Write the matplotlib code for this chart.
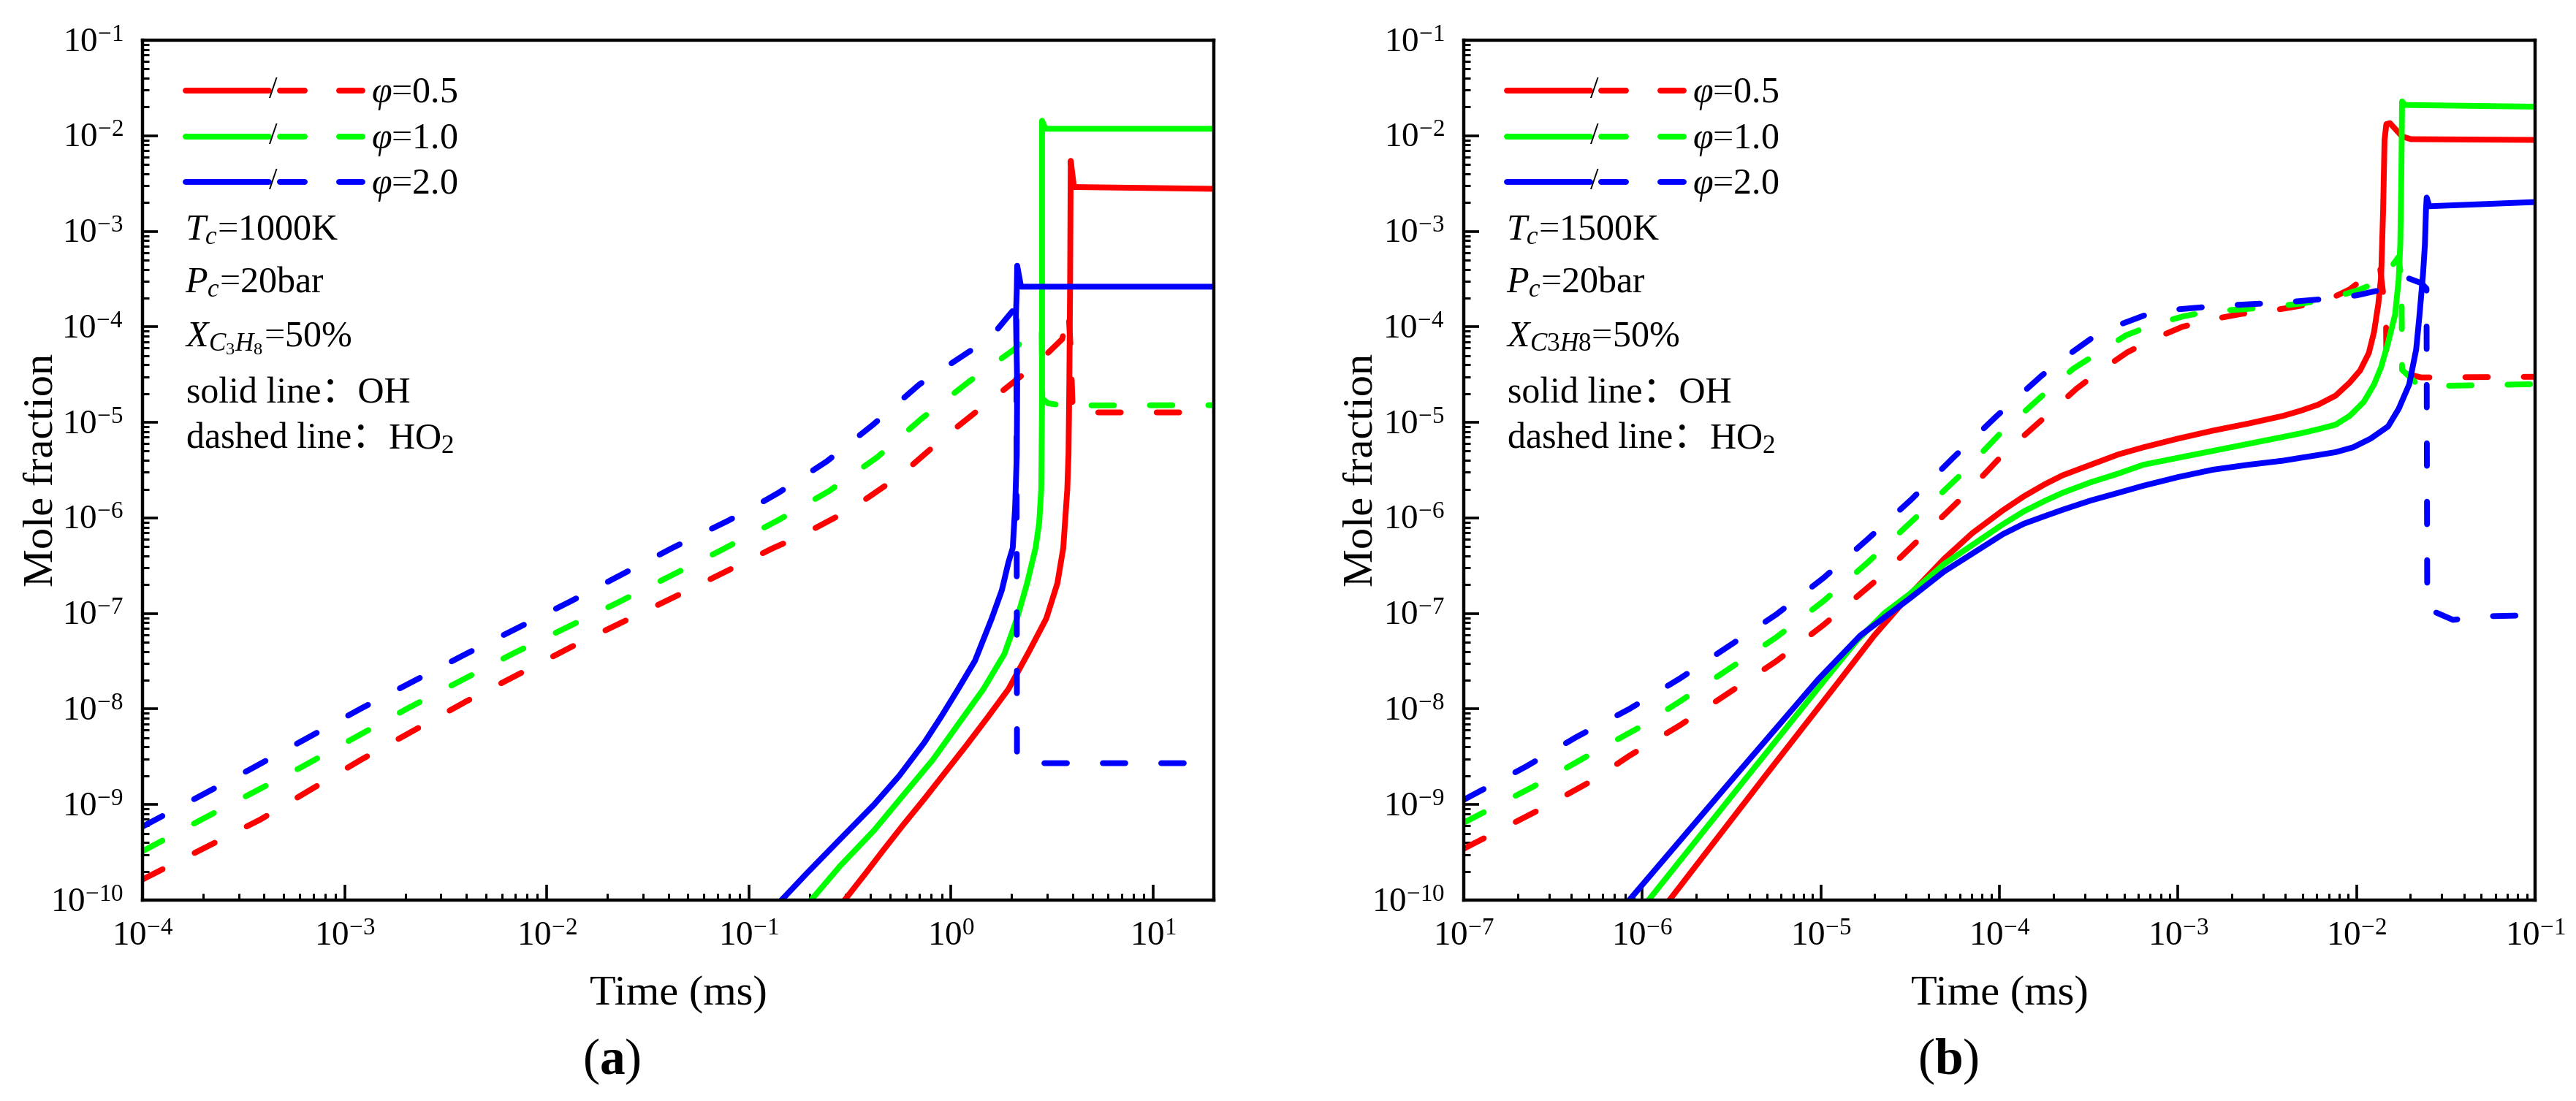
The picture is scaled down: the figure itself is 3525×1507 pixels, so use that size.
import numpy as np
import matplotlib
matplotlib.use("Agg")
import matplotlib.pyplot as plt
from matplotlib.ticker import LogLocator, NullFormatter

plt.rcParams['font.family'] = ['Liberation Serif', 'Noto Sans CJK SC', 'DejaVu Sans']
plt.rcParams['mathtext.fontset'] = 'custom'
plt.rcParams['mathtext.rm'] = 'Liberation Serif'
plt.rcParams['mathtext.it'] = 'Liberation Serif:italic'
plt.rcParams['mathtext.bf'] = 'Liberation Serif:bold'
plt.rcParams['axes.unicode_minus'] = False

# ---- data, stored as decades:
#      lt = log10(time / ms), ly = log10(mole fraction) ----
phis = ['0.5', '1.0', '2.0']
colors = ['#ff0000', '#00ff00', '#0000ff']

# (a) Tc = 1000 K, OH
a_oh_red_lt = [-0.526, -0.422, -0.339, -0.235, -0.131, -0.027, 0.077, 0.181, 0.285, 0.39, 0.472, 0.527,
               0.556, 0.576, 0.582, 0.586, 0.59, 0.593, 0.609, 1.31]
a_oh_red_ly = [-10.0, -9.72, -9.49, -9.21, -8.94, -8.66, -8.38, -8.09, -7.791, -7.385, -7.053, -6.684,
               -6.315, -5.7, -5.335, -4.603, -3.506, -2.263, -2.537, -2.556]
a_oh_green_lt = [-0.692, -0.547, -0.38, -0.235, -0.089, 0.036, 0.161, 0.265, 0.327, 0.377, 0.419, 0.437,
                 0.447, 0.451, 0.451, 0.451, 0.468, 1.31]
a_oh_green_ly = [-10.0, -9.64, -9.27, -8.9, -8.53, -8.16, -7.791, -7.422, -7.053, -6.684, -6.315, -6.05,
                 -5.7, -4.786, -3.141, -1.843, -1.927, -1.927]
a_oh_blue_lt = [-0.838, -0.713, -0.547, -0.38, -0.256, -0.131, -0.048, 0.036, 0.119, 0.202, 0.252, 0.285,
                0.306, 0.318, 0.326, 0.328, 0.322, 0.326, 0.328, 0.347, 1.31]
a_oh_blue_ly = [-10.0, -9.72, -9.36, -9.0, -8.7, -8.35, -8.08, -7.791, -7.496, -7.053, -6.758, -6.463,
                -6.315, -5.883, -5.335, -4.603, -3.872, -3.616, -3.36, -3.58, -3.58]

# (a) HO2
a_ho2_red_lt = [-4.0, -3.417, -2.918, -2.398, -1.878, -1.337, -0.879, -0.749, -0.489, -0.25, -0.031, 0.197,
                0.426, 0.551, 0.582, 0.593, 0.603, 1.31]
a_ho2_red_ly = [-9.784, -9.157, -8.53, -7.92, -7.35, -6.795, -6.315, -6.194, -5.902, -5.554, -5.152, -4.768,
                -4.384, -4.128, -3.835, -4.24, -4.896, -4.896]
a_ho2_green_lt = [-4.0, -3.708, -3.209, -2.689, -2.169, -1.649, -1.15, -0.853, -0.603, -0.364, -0.146, 0.089,
                  0.312, 0.364, 0.437, 0.449, 0.452, 0.48, 0.551, 1.31]
a_ho2_green_ly = [-9.489, -9.157, -8.603, -7.994, -7.422, -6.887, -6.352, -6.022, -5.719, -5.364, -4.962,
                  -4.574, -4.238, -4.128, -3.982, -4.05, -4.75, -4.8, -4.823, -4.82]
a_ho2_blue_lt = [-4.0, -3.459, -2.918, -2.398, -1.878, -1.379, -1.103, -0.988, -0.853, -0.614, -0.385,
                 -0.156, 0.093, 0.197, 0.312, 0.324, 0.327, 0.345, 1.31]
a_ho2_blue_ly = [-9.231, -8.622, -7.994, -7.422, -6.869, -6.315, -6.03, -5.9, -5.737, -5.408, -5.024,
                 -4.603, -4.256, -4.11, -3.817, -3.7, -8.45, -8.567, -8.567]

# (b) Tc = 1500 K, OH
b_oh_red_lt = [-5.848, -5.289, -4.897, -4.701, -4.505, -4.309, -4.152, -3.98, -3.862, -3.744, -3.646, -3.489,
               -3.333, -3.195, -3.0, -2.803, -2.607, -2.411, -2.313, -2.215, -2.117, -2.039, -1.98, -1.931,
               -1.902, -1.878, -1.862, -1.851, -1.843, -1.833, -1.813, -1.745, -1.696, -0.996]
b_oh_red_ly = [-10.0, -8.646, -7.706, -7.231, -6.81, -6.427, -6.16, -5.92, -5.773, -5.646, -5.554, -5.444,
               -5.335, -5.262, -5.17, -5.086, -5.013, -4.932, -4.878, -4.815, -4.72, -4.585, -4.457, -4.274,
               -4.055, -3.762, -3.47, -2.775, -2.044, -1.879, -1.868, -2.007, -2.036, -2.044]
b_oh_green_lt = [-5.965, -5.485, -4.975, -4.799, -4.642, -4.505, -4.309, -3.98, -3.862, -3.744, -3.646,
                 -3.489, -3.333, -3.195, -3.0, -2.803, -2.607, -2.411, -2.313, -2.215, -2.117, -2.039, -1.96,
                 -1.902, -1.862, -1.823, -1.784, -1.764, -1.755, -1.749, -1.745, -1.729, -0.996]
b_oh_green_ly = [-10.0, -8.877, -7.688, -7.286, -6.993, -6.8, -6.482, -6.066, -5.93, -5.82, -5.737, -5.627,
                 -5.535, -5.444, -5.371, -5.298, -5.225, -5.152, -5.115, -5.072, -5.024, -4.933, -4.787,
                 -4.603, -4.42, -4.165, -3.872, -3.506, -3.141, -2.409, -1.641, -1.678, -1.696]
b_oh_blue_lt = [-6.073, -5.485, -5.014, -4.779, -4.505, -4.309, -3.98, -3.862, -3.744, -3.646, -3.489, -3.333,
                -3.195, -3.0, -2.803, -2.607, -2.411, -2.313, -2.215, -2.117, -2.019, -1.921, -1.823, -1.764,
                -1.705, -1.666, -1.647, -1.627, -1.617, -1.611, -1.607, -1.592, -0.996]
b_oh_blue_ly = [-10.0, -8.712, -7.688, -7.231, -6.847, -6.56, -6.17, -6.06, -5.98, -5.915, -5.818, -5.737,
                -5.664, -5.573, -5.495, -5.444, -5.401, -5.371, -5.342, -5.312, -5.261, -5.17, -5.042, -4.859,
                -4.603, -4.238, -3.872, -3.433, -3.141, -2.775, -2.647, -2.738, -2.694]

# (b) HO2
b_ho2_red_lt = [-7.0, -6.563, -6.279, -6.073, -5.789, -5.515, -5.25, -4.985, -4.662, -4.191, -3.98, -3.705,
                -3.568, -3.447, -3.284, -3.146, -2.976, -2.823, -2.646, -2.494, -2.317, -2.157, -2.039, -1.931,
                -1.87, -1.835, -1.833, -1.784, -1.637, -1.0]
b_ho2_red_ly = [-9.462, -9.041, -8.748, -8.49, -8.17, -7.83, -7.5, -7.12, -6.609, -5.755, -5.335, -4.878,
                -4.647, -4.476, -4.267, -4.135, -4.0, -3.927, -3.865, -3.836, -3.781, -3.715, -3.609, -3.452,
                -3.35, -3.9, -4.3, -4.465, -4.53, -4.523]
b_ho2_green_lt = [-7.0, -6.602, -6.308, -6.024, -5.789, -5.515, -5.25, -4.985, -4.74, -4.456, -4.22, -3.995,
                  -3.734, -3.587, -3.454, -3.293, -3.146, -2.97, -2.819, -2.637, -2.486, -2.303, -2.157, -1.99,
                  -1.862, -1.765, -1.748, -1.745, -1.647, -1.0]
b_ho2_green_ly = [-9.19, -8.804, -8.492, -8.2, -7.92, -7.58, -7.25, -6.87, -6.47, -5.975, -5.554, -5.115,
                  -4.677, -4.439, -4.281, -4.091, -3.982, -3.89, -3.836, -3.817, -3.792, -3.755, -3.708, -3.616,
                  -3.517, -3.27, -3.5, -4.45, -4.622, -4.6]
b_ho2_blue_lt = [-7.0, -6.652, -6.367, -6.073, -5.789, -5.515, -5.25, -4.985, -4.74, -4.495, -4.26, -4.015,
                 -3.764, -3.627, -3.49, -3.333, -3.176, -3.0, -2.843, -2.666, -2.51, -2.333, -2.176, -2.0,
                 -1.853, -1.715, -1.637, -1.608, -1.604, -1.46, -1.284, -1.0]
b_ho2_blue_ly = [-8.95, -8.603, -8.291, -8.0, -7.68, -7.341, -7.011, -6.628, -6.226, -5.81, -5.372, -4.933,
                 -4.512, -4.311, -4.128, -3.982, -3.872, -3.817, -3.792, -3.77, -3.755, -3.733, -3.708, -3.671,
                 -3.609, -3.488, -3.543, -3.6, -6.95, -7.067, -7.03, -7.018]

panels = [
    dict(xlim=(1e-4, 20), tc='1000K', xc=r'$X_{C_3H_8}$=50%', tag=r'($\mathbf{a}$)', tagx=0.438,
         oh=[(a_oh_red_lt, a_oh_red_ly), (a_oh_green_lt, a_oh_green_ly), (a_oh_blue_lt, a_oh_blue_ly)],
         ho2=[(a_ho2_red_lt, a_ho2_red_ly), (a_ho2_green_lt, a_ho2_green_ly),
              (a_ho2_blue_lt, a_ho2_blue_ly)]),
    dict(xlim=(1e-7, 1e-1), tc='1500K', xc=r'$X_{\mathit{C3H8}}$=50%', tag=r'($\mathbf{b}$)', tagx=0.452,
         oh=[(b_oh_red_lt, b_oh_red_ly), (b_oh_green_lt, b_oh_green_ly), (b_oh_blue_lt, b_oh_blue_ly)],
         ho2=[(b_ho2_red_lt, b_ho2_red_ly), (b_ho2_green_lt, b_ho2_green_ly),
              (b_ho2_blue_lt, b_ho2_blue_ly)]),
]

W, H = 3525, 1507
AW, AH = 1466, 1177          # axes size in pixels
LW = 5.7
DASH = (3.9, 6.2)
TXT = 36

fig = plt.figure(figsize=(W / 100, H / 100), dpi=100)
renderer = fig.canvas.get_renderer()


def fx(px):
    return px / AW


def fy(px):
    return 1 - px / AH


def dec(v):
    return 10.0 ** np.asarray(v)


for i, p in enumerate(panels):
    left = [195, 2003][i]
    ax = fig.add_axes([left / W, 1 - 1232 / H, AW / W, AH / H])
    ax.set_xscale('log')
    ax.set_yscale('log')

    for k in range(3):
        lt, ly = p['oh'][k]
        ax.plot(dec(lt), dec(ly), color=colors[k], lw=LW, solid_joinstyle='round')
        lt, ly = p['ho2'][k]
        ax.plot(dec(lt), dec(ly), color=colors[k], lw=LW, dashes=DASH,
                dash_capstyle='round', dash_joinstyle='round')

    ax.set_xlim(*p['xlim'])
    ax.set_ylim(1e-10, 1e-1)
    for axis in (ax.xaxis, ax.yaxis):
        axis.set_major_locator(LogLocator(base=10, numticks=30))
        axis.set_minor_locator(LogLocator(base=10, subs=range(2, 10), numticks=30))
        axis.set_minor_formatter(NullFormatter())
    ax.tick_params(which='both', direction='in', top=False, right=False)
    ax.tick_params(which='major', length=15, width=2.6, labelsize=34)
    ax.tick_params(which='minor', length=6.5, width=2.2)
    ax.tick_params(axis='x', which='major', pad=22)
    ax.tick_params(axis='y', which='major', pad=19)
    for s in ax.spines.values():
        s.set_linewidth(3.2)

    # legend: solid / dashed keys per equivalence ratio
    for k, ry in enumerate([69, 132, 194]):
        kw = dict(color=colors[k], lw=LW, transform=ax.transAxes, clip_on=False,
                  solid_capstyle='round')
        ax.plot([fx(58.5), fx(172.5)], [fy(ry), fy(ry)], **kw)
        ax.plot([fx(187.5), fx(221.5)], [fy(ry), fy(ry)], **kw)
        ax.plot([fx(268.5), fx(300.5)], [fy(ry), fy(ry)], **kw)
        ax.text(fx(179), fy(ry), '/', fontsize=30, ha='center', va='center', transform=ax.transAxes)
        ax.text(fx(313), fy(ry + 16), r'$\varphi$=' + phis[k], fontsize=TXT, va='baseline',
                transform=ax.transAxes)

    ax.text(fx(58), fy(273), r'$T_c$=' + p['tc'], fontsize=TXT, va='baseline', transform=ax.transAxes)
    ax.text(fx(58), fy(345), r'$P_c$=20bar', fontsize=TXT, va='baseline', transform=ax.transAxes)
    ax.text(fx(58), fy(419), p['xc'], fontsize=TXT, va='baseline', transform=ax.transAxes)
    ax.text(fx(60), fy(497), 'solid line：OH', fontsize=TXT, va='baseline', transform=ax.transAxes)
    t1 = ax.text(fx(60), fy(559), 'dashed line：', fontsize=TXT, va='baseline', transform=ax.transAxes)
    bb = t1.get_window_extent(renderer)
    x_end = ax.transAxes.inverted().transform((bb.x1, bb.y0))[0]
    ax.text(x_end, fy(559), r'HO$_2$', fontsize=TXT, va='baseline', transform=ax.transAxes)

    ax.text(0.5, -(1375 - 1232) / AH, 'Time (ms)', fontsize=42, ha='center', va='baseline',
            transform=ax.transAxes)
    ax.text(-(left - [72, 1878][i]) / AW, 0.5, 'Mole fraction', fontsize=42, rotation=90,
            rotation_mode='anchor', ha='center', va='baseline', transform=ax.transAxes)
    ax.text(p['tagx'], -(1470 - 1232) / AH, p['tag'], fontsize=50, ha='center', va='baseline',
            transform=ax.transAxes)

fig.savefig('out.png', dpi=100)
